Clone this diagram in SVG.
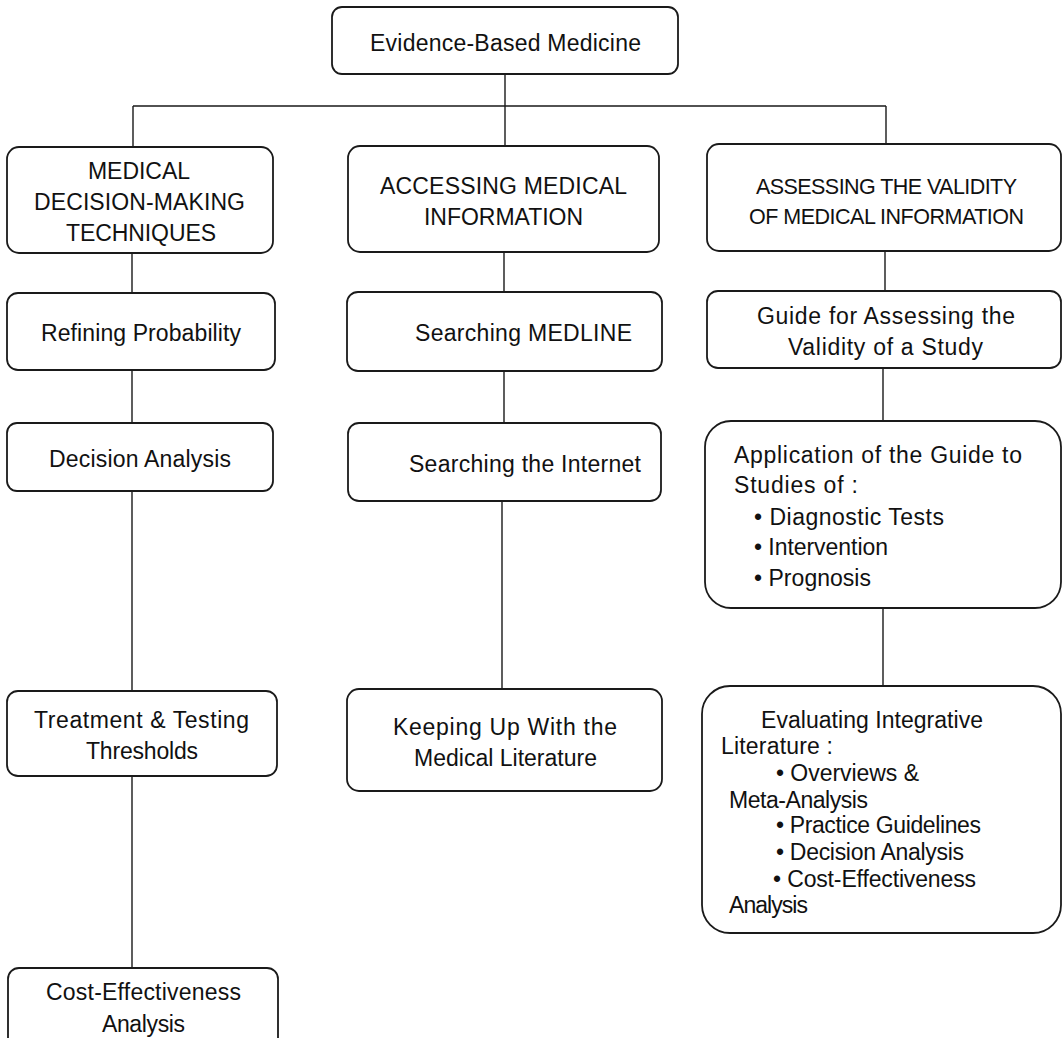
<svg xmlns="http://www.w3.org/2000/svg" width="1063" height="1038" viewBox="0 0 1063 1038">
<style>
  .box { fill: #ffffff; stroke: #1a1a1a; stroke-width: 1.8; }
  .conn { fill: none; stroke: #1a1a1a; stroke-width: 1.4; }
  text { font-family: "Liberation Sans", Arial, sans-serif; font-size: 23px; fill: #111111; }
  text.sm { font-size: 21.5px; }
</style>
<rect width="1063" height="1038" fill="#ffffff"/>
<g id="connectors">
  <path class="conn" d="M505 74 V106 M133 106 H886 M133 106 V147 M505 106 V146 M886 106 V144"/>
  <path class="conn" d="M132 253 V293 M132 370 V423 M132 491 V691 M132 776 V968"/>
  <path class="conn" d="M504 252 V292 M504 371 V423 M502 501 V689"/>
  <path class="conn" d="M885 251 V291 M883 368 V421 M883 608 V686"/>
</g>
<g id="n-ebm">
  <rect class="box" x="332" y="7" width="346" height="67" rx="10"/>
  <text x="370" y="51" textLength="271" lengthAdjust="spacing">Evidence-Based Medicine</text>
</g>
<g id="n-mdmt">
  <rect class="box" x="7" y="147" width="266" height="106" rx="12"/>
  <text x="88" y="179" textLength="102" lengthAdjust="spacing">MEDICAL</text>
  <text x="34" y="210" textLength="211" lengthAdjust="spacing">DECISION-MAKING</text>
  <text x="66" y="241" textLength="150" lengthAdjust="spacing">TECHNIQUES</text>
</g>
<g id="n-ami">
  <rect class="box" x="348" y="146" width="311" height="106" rx="12"/>
  <text x="380" y="194" textLength="247" lengthAdjust="spacing">ACCESSING MEDICAL</text>
  <text x="424" y="225" textLength="159" lengthAdjust="spacing">INFORMATION</text>
</g>
<g id="n-avmi">
  <rect class="box" x="707" y="144" width="354" height="107" rx="12"/>
  <text class="sm" x="756" y="194" textLength="261" lengthAdjust="spacing">ASSESSING THE VALIDITY</text>
  <text class="sm" x="749" y="224" textLength="275" lengthAdjust="spacing">OF MEDICAL INFORMATION</text>
</g>
<g id="n-refining">
  <rect class="box" x="7" y="293" width="268" height="77" rx="11"/>
  <text x="41" y="341" textLength="200" lengthAdjust="spacing">Refining Probability</text>
</g>
<g id="n-medline">
  <rect class="box" x="347" y="292" width="315" height="79" rx="11"/>
  <text x="415" y="341" textLength="217" lengthAdjust="spacing">Searching MEDLINE</text>
</g>
<g id="n-guide">
  <rect class="box" x="707" y="291" width="354" height="77" rx="11"/>
  <text x="757" y="324" textLength="258" lengthAdjust="spacing">Guide for Assessing the</text>
  <text x="788" y="355" textLength="195" lengthAdjust="spacing">Validity of a Study</text>
</g>
<g id="n-decision">
  <rect class="box" x="7" y="423" width="266" height="68" rx="10"/>
  <text x="49" y="467" textLength="182" lengthAdjust="spacing">Decision Analysis</text>
</g>
<g id="n-internet">
  <rect class="box" x="348" y="423" width="313" height="78" rx="11"/>
  <text x="409" y="472" textLength="232" lengthAdjust="spacing">Searching the Internet</text>
</g>
<g id="n-application">
  <rect class="box" x="705" y="421" width="356" height="187" rx="26"/>
  <text x="734" y="463" textLength="288" lengthAdjust="spacing">Application of the Guide to</text>
  <text x="734" y="493" textLength="124" lengthAdjust="spacing">Studies of :</text>
  <text x="754" y="525" textLength="190" lengthAdjust="spacing">• Diagnostic Tests</text>
  <text x="754" y="555" textLength="134" lengthAdjust="spacing">• Intervention</text>
  <text x="754" y="586" textLength="117" lengthAdjust="spacing">• Prognosis</text>
</g>
<g id="n-thresholds">
  <rect class="box" x="7" y="691" width="270" height="85" rx="11"/>
  <text x="34" y="728" textLength="215" lengthAdjust="spacing">Treatment &amp; Testing</text>
  <text x="86" y="759" textLength="112" lengthAdjust="spacing">Thresholds</text>
</g>
<g id="n-keeping">
  <rect class="box" x="347" y="689" width="315" height="102" rx="12"/>
  <text x="393" y="735" textLength="224" lengthAdjust="spacing">Keeping Up With the</text>
  <text x="414" y="766" textLength="183" lengthAdjust="spacing">Medical Literature</text>
</g>
<g id="n-evaluating">
  <rect class="box" x="702" y="686" width="359" height="247" rx="28"/>
  <text x="761" y="728" textLength="222" lengthAdjust="spacing">Evaluating Integrative</text>
  <text x="721" y="754" textLength="112" lengthAdjust="spacing">Literature :</text>
  <text x="776" y="781" textLength="143" lengthAdjust="spacing">• Overviews &amp;</text>
  <text x="729" y="808" textLength="139" lengthAdjust="spacing">Meta-Analysis</text>
  <text x="776" y="833" textLength="205" lengthAdjust="spacing">• Practice Guidelines</text>
  <text x="776" y="860" textLength="188" lengthAdjust="spacing">• Decision Analysis</text>
  <text x="773" y="887" textLength="203" lengthAdjust="spacing">• Cost-Effectiveness</text>
  <text x="729" y="913" textLength="79" lengthAdjust="spacing">Analysis</text>
</g>
<g id="n-cea">
  <rect class="box" x="8" y="968" width="270" height="90" rx="11"/>
  <text x="46" y="1000" textLength="195" lengthAdjust="spacing">Cost-Effectiveness</text>
  <text x="102" y="1032" textLength="83" lengthAdjust="spacing">Analysis</text>
</g>
</svg>
